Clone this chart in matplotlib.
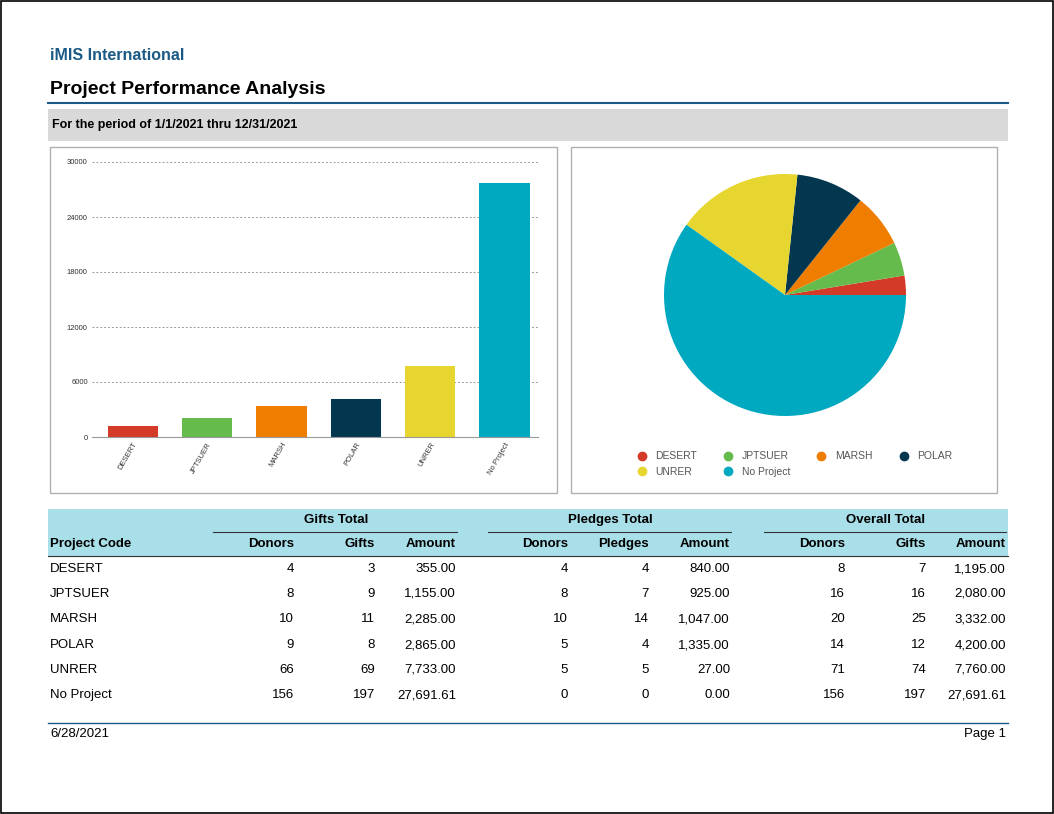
import matplotlib
matplotlib.use('Agg')
import matplotlib.pyplot as plt
from matplotlib.patches import Rectangle
from matplotlib.lines import Line2D

plt.rcParams['font.family'] = ['Liberation Sans', 'DejaVu Sans']

projects = ["DESERT", "JPTSUER", "MARSH", "POLAR", "UNRER", "No Project"]
gift_donors = [4, 8, 10, 9, 66, 156]
gift_count = [3, 9, 11, 8, 69, 197]
gift_amount = [355.00, 1155.00, 2285.00, 2865.00, 7733.00, 27691.61]
pledge_donors = [4, 8, 10, 5, 5, 0]
pledge_count = [4, 7, 14, 4, 5, 0]
pledge_amount = [840.00, 925.00, 1047.00, 1335.00, 27.00, 0.00]
total_donors = [8, 16, 20, 14, 71, 156]
total_gifts = [7, 16, 25, 12, 74, 197]
total_amount = [1195.00, 2080.00, 3332.00, 4200.00, 7760.00, 27691.61]
y_ticks = [0, 6000, 12000, 18000, 24000, 30000]
colors = ["#d33a27", "#65bb4b", "#ee7d00", "#03374f", "#e8d630", "#00a8c0"]

W, H = 1054, 814
fig = plt.figure(figsize=(W / 100, H / 100), dpi=100)

def fx(x):
    return x / W

def fy(y):
    return 1 - y / H

def rect(x0, y0, x1, y1, **kw):
    fig.patches.append(Rectangle((fx(x0), fy(y1)), fx(x1) - fx(x0), fy(y0) - fy(y1),
                                 transform=fig.transFigure, **kw))

def hline(x0, x1, y, color, lw):
    fig.lines.append(Line2D([fx(x0), fx(x1)], [fy(y), fy(y)], transform=fig.transFigure,
                            color=color, lw=lw))

def txt(x, y, s, ha="left", **kw):
    fig.text(fx(x), fy(y), s, ha=ha, va="center", **kw)

# page border
rect(1, 1, W - 1, H - 1, fill=False, ec="black", lw=1.2)

# header
txt(50, 55, "iMIS International", color="#1a5a85", fontsize=11.5, fontweight="bold")
txt(50, 89, "Project Performance Analysis", color="black", fontsize=14, fontweight="bold")
hline(48, 1008, 103, "#1a5a85", 1.5)
rect(48, 109, 1008, 141, color="#d9d9d9", lw=0)
txt(52, 125, "For the period of 1/1/2021 thru 12/31/2021", fontsize=9, fontweight="bold")

# panels
rect(50, 147, 557, 493, fill=False, ec="#b0b0b0", lw=1)
rect(571, 147, 997, 493, fill=False, ec="#b0b0b0", lw=1)

# bar chart
ax = fig.add_axes([fx(92), fy(437), fx(538) - fx(92), fy(162) - fy(437)])
ax.bar(range(len(projects)), total_amount, color=colors, width=0.68)
ax.set_ylim(0, 30000)
ax.set_xlim(-0.55, 5.45)
ax.set_yticks(y_ticks)
ax.set_yticklabels([str(v) for v in y_ticks], fontsize=5.5, color="#333333")
ax.set_xticks(range(len(projects)))
ax.set_xticklabels(projects, rotation=60, ha="right", fontsize=5.5, color="#333333",
                   rotation_mode="anchor")
ax.tick_params(length=0, pad=3)
ax.yaxis.grid(True, linestyle=(0, (2, 2)), color="#999999", lw=0.7)
ax.set_axisbelow(True)
for s in ["top", "right", "left"]:
    ax.spines[s].set_visible(False)
ax.spines["bottom"].set_color("#999999")

# pie chart
r = 121
pax = fig.add_axes([fx(785 - r), fy(295 + r), fx(2 * r), fy(0) - fy(2 * r)])
pax.pie(total_amount, colors=colors, startangle=0, counterclock=True)
pax.set_xlim(-1, 1)
pax.set_ylim(-1, 1)
pax.set_aspect("equal")
order = [0, 4, 1, 5, 2, 3]
handles = [Line2D([], [], marker="o", ls="", color=colors[i], markersize=6) for i in order]
fig.legend(handles, [projects[i] for i in order], loc="upper left",
           bbox_to_anchor=(fx(622), fy(442)),
           ncol=4, frameon=False, fontsize=7.5, labelcolor="#555555",
           handletextpad=0.3, columnspacing=2.0, labelspacing=0.5)

# table
rect(48, 509, 1008, 556, color="#a9dfe9", lw=0)
txt(336, 520, "Gifts Total", ha="center", fontsize=9.5, fontweight="bold")
txt(610, 520, "Pledges Total", ha="center", fontsize=9.5, fontweight="bold")
txt(886, 520, "Overall Total", ha="center", fontsize=9.5, fontweight="bold")
for x0, x1 in [(213, 457), (488, 731), (764, 1006)]:
    hline(x0, x1, 532, "#333333", 0.8)
hline(48, 1008, 556, "#333333", 0.8)

col_x = [294, 375, 456, 568, 649, 730, 845, 926, 1006]
col_names = ["Donors", "Gifts", "Amount", "Donors", "Pledges", "Amount", "Donors", "Gifts", "Amount"]
txt(50, 544, "Project Code", fontsize=9.5, fontweight="bold")
for x, n in zip(col_x, col_names):
    txt(x, 544, n, ha="right", fontsize=9.5, fontweight="bold")

row_y = [569, 594, 619, 645, 670, 695]
cols = [gift_donors, gift_count, gift_amount, pledge_donors, pledge_count, pledge_amount,
        total_donors, total_gifts, total_amount]
for i, p in enumerate(projects):
    txt(50, row_y[i], p, fontsize=9.5)
    for j, c in enumerate(cols):
        v = c[i]
        s = f"{v:,.2f}" if j in (2, 5, 8) else str(v)
        txt(col_x[j], row_y[i], s, ha="right", fontsize=9.5)

# footer
hline(48, 1008, 723, "#1a5a85", 1)
txt(50, 734, "6/28/2021", fontsize=9.5)
txt(1006, 734, "Page 1", ha="right", fontsize=9.5)

fig.savefig("out.png", dpi=100)
